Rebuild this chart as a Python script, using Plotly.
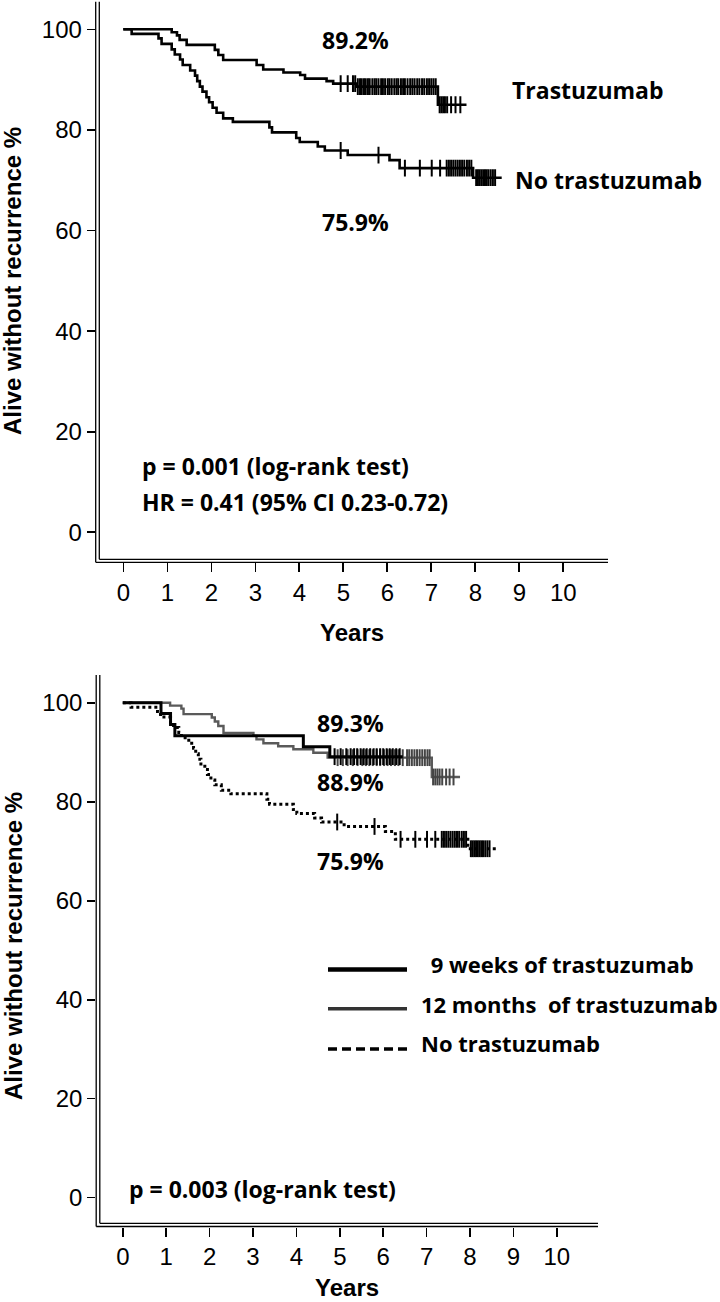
import plotly.graph_objects as go

# ---------------- DATA ----------------
# Top panel: Trastuzumab vs No trastuzumab (Kaplan-Meier steps, % alive without recurrence)
tras_times = [0, 1.10, 1.22, 1.28, 1.44, 2.08, 2.16, 2.27, 3.03, 3.18, 3.64, 4.02, 4.13, 4.62, 4.77, 5.30, 7.15]
tras_surv = [100, 99.4, 98.8, 97.9, 96.9, 95.9, 94.9, 93.9, 92.9, 92.0, 91.4, 90.9, 90.2, 89.7, 89.2, 88.6, 85.0]
tras_end = 7.80
tras_censor = [4.94, 5.10, 5.22, 5.27, 5.33, 5.38, 5.42, 5.47, 5.51, 5.56, 5.60, 5.66, 5.71, 5.75,
               5.80, 5.86, 5.90, 5.95, 6.01, 6.05, 6.10, 6.16, 6.21, 6.25, 6.31, 6.36, 6.40, 6.46,
               6.52, 6.57, 6.62, 6.68, 6.73, 6.79, 6.84, 6.90, 6.95, 7.00, 7.05, 7.10,
               7.19, 7.23, 7.27, 7.31, 7.36, 7.45, 7.55, 7.66]

none_times = [0, 0.19, 0.80, 0.87, 1.10, 1.17, 1.29, 1.35, 1.52, 1.63, 1.68, 1.74, 1.80, 1.89, 1.95,
              2.03, 2.12, 2.27, 2.49, 3.32, 3.38, 3.93, 4.01, 4.42, 4.58, 5.10, 6.05, 6.28, 7.95]
none_surv = [100, 99.1, 98.2, 97.1, 96.0, 95.0, 94.0, 92.9, 91.8, 90.8, 89.7, 88.6, 87.6, 86.5, 85.5,
             84.4, 83.4, 82.3, 81.6, 80.5, 79.5, 78.4, 77.6, 76.7, 75.9, 75.0, 74.0, 72.4, 70.5]
none_end = 8.60
none_censor = [4.94, 5.80, 6.40, 6.74, 7.01, 7.20, 7.35, 7.40, 7.45, 7.50, 7.55, 7.60, 7.65, 7.70,
               7.75, 7.81, 7.86, 7.91, 8.02, 8.06, 8.10, 8.14, 8.18, 8.22, 8.26, 8.30, 8.35, 8.40, 8.45]

# Bottom panel: 9 weeks vs 12 months vs No trastuzumab
w9_times = [0, 0.88, 1.10, 1.20, 4.16, 4.77]
w9_surv = [100, 97.8, 95.6, 93.3, 91.1, 89.1]
w9_end = 6.45
w9_censor = [4.88, 5.02, 5.15, 5.25, 5.33, 5.40, 5.48, 5.55, 5.62, 5.70, 5.78, 5.85, 5.93, 6.00,
             6.08, 6.15, 6.22, 6.30, 6.38]

m12_times = [0, 1.09, 1.35, 1.40, 2.05, 2.12, 2.20, 2.32, 3.01, 3.08, 3.24, 3.58, 3.93, 4.39, 4.72, 7.12]
m12_surv = [100, 99.4, 98.8, 97.7, 97.0, 96.2, 95.3, 93.9, 93.3, 92.6, 91.8, 91.2, 90.6, 89.9, 88.9, 85.0]
m12_end = 7.77
m12_censor = [4.95, 5.07, 5.18, 5.30, 5.41, 5.52, 5.60, 5.68, 5.76, 5.85, 5.93, 6.02, 6.10, 6.18,
              6.27, 6.35, 6.45, 6.55, 6.60, 6.66, 6.72, 6.78, 6.84, 6.90, 6.96, 7.02, 7.07,
              7.15, 7.20, 7.25, 7.30, 7.36, 7.45, 7.53, 7.62]

x_ticks = [0, 1, 2, 3, 4, 5, 6, 7, 8, 9, 10]
y_ticks = [0, 20, 40, 60, 80, 100]

# ---------------- LAYOUT GEOMETRY (pixels) ----------------
W, H = 720, 1302
TOP = dict(left=95.7, inner_left=99.3, right=608, top=1.7, bottom=562.3, inner_bottom=559.3,
           x0px=123.3, xscale=44.0, y100=29.3, yscale=5.03)
BOT = dict(left=96.2, inner_left=99.8, right=598, top=675, bottom=1226.5, inner_bottom=1223.3,
           x0px=122.8, xscale=43.4, y100=702.7, yscale=4.95)


def px(x):
    return x / W


def py(y):
    return 1 - y / H


def step_val(t, times, surv):
    v = surv[0]
    for tt, ss in zip(times, surv):
        if tt <= t:
            v = ss
    return v


fig = go.Figure()


def add_curve(times, surv, end, censor, xa, ya, color, width, dash, mcolor, mwidth=2.0, msize=12):
    fig.add_trace(go.Scatter(
        x=times + [end], y=surv + [surv[-1]], mode="lines",
        line=dict(shape="hv", color=color, width=width, dash=dash),
        xaxis=xa, yaxis=ya, showlegend=False, hoverinfo="skip"))
    fig.add_trace(go.Scatter(
        x=censor, y=[step_val(c, times, surv) for c in censor], mode="markers",
        marker=dict(symbol="line-ns", size=msize, line=dict(color=mcolor, width=mwidth)),
        xaxis=xa, yaxis=ya, showlegend=False, hoverinfo="skip"))


# top panel
add_curve(tras_times, tras_surv, tras_end, tras_censor, "x", "y", "black", 2.6, "solid", "black")
add_curve(none_times, none_surv, none_end, none_censor, "x", "y", "black", 2.6, "solid", "black")
# bottom panel
add_curve(none_times, none_surv, none_end, none_censor, "x2", "y2", "black", 3.0, "dot", "black")
add_curve(m12_times, m12_surv, m12_end, m12_censor, "x2", "y2", "#5a5a5a", 2.4, "solid", "#444444")
add_curve(w9_times, w9_surv, w9_end, w9_censor, "x2", "y2", "black", 3.0, "solid", "black")


def axes(G):
    xr = [(G["left"] - G["x0px"]) / G["xscale"], (G["right"] - G["x0px"]) / G["xscale"]]
    yr = [100 - (G["bottom"] - G["y100"]) / G["yscale"], 100 + (G["y100"] - G["top"]) / G["yscale"]]
    xd = [px(G["left"]), px(G["right"])]
    yd = [py(G["bottom"]), py(G["top"])]
    xax = dict(domain=xd, range=xr, showgrid=False, zeroline=False, showline=False,
               ticks="outside", ticklen=9, tickwidth=1.6, tickcolor="black",
               tickvals=x_ticks, ticktext=[str(v) for v in x_ticks],
               tickfont=dict(family="Arial", size=24, color="black"), fixedrange=True)
    yax = dict(domain=yd, range=yr, showgrid=False, zeroline=False, showline=False,
               ticks="outside", ticklen=8, tickwidth=1.6, tickcolor="black",
               tickvals=y_ticks, ticktext=[str(v) for v in y_ticks],
               tickfont=dict(family="Arial", size=24, color="black"), fixedrange=True)
    return xax, yax


xa1, ya1 = axes(TOP)
xa2, ya2 = axes(BOT)
ya1["anchor"] = "x"
xa1["anchor"] = "y"
xa2["anchor"] = "y2"
ya2["anchor"] = "x2"

shapes = []
for G in (TOP, BOT):
    for x in (G["left"], G["inner_left"]):
        shapes.append(dict(type="line", xref="paper", yref="paper", x0=px(x), x1=px(x),
                           y0=py(G["top"]), y1=py(G["bottom"] if x == G["left"] else G["inner_bottom"]),
                           line=dict(color="black", width=1.3)))
    for y in (G["bottom"], G["inner_bottom"]):
        shapes.append(dict(type="line", xref="paper", yref="paper",
                           x0=px(G["left"] if y == G["bottom"] else G["inner_left"]),
                           x1=px(G["right"]), y0=py(y), y1=py(y),
                           line=dict(color="black", width=1.3)))

# legend (bottom panel)
leg = [(969.5, dict(color="black", width=4.5, dash="solid")),
       (1008.7, dict(color="#333333", width=3.5, dash="solid")),
       (1049.0, dict(color="black", width=3.5, dash="9px,5px"))]
for yy, ln in leg:
    shapes.append(dict(type="line", xref="paper", yref="paper", x0=px(328), x1=px(407),
                       y0=py(yy), y1=py(yy), line=ln))

TXT = dict(family="Open Sans", size=23, color="black", weight="bold")
ARIALB = dict(family="Arial", size=24, color="black", weight="bold")


def ann(text, x, y, font, xanchor="left", yanchor="middle", angle=0):
    return dict(text=text, x=px(x), y=py(y), xref="paper", yref="paper", showarrow=False,
                xanchor=xanchor, yanchor=yanchor, font=font, textangle=angle)


anns = [
    ann("89.2%", 355, 40, TXT, "center"),
    ann("75.9%", 355, 222, TXT, "center"),
    ann("Trastuzumab", 510, 90, TXT),
    ann("No trastuzumab", 513, 180, TXT),
    ann("p = 0.001 (log-rank test)", 140, 466, TXT),
    ann("HR = 0.41 (95% CI 0.23-0.72)", 140, 502, TXT),
    ann("89.3%", 350, 723, TXT, "center"),
    ann("88.9%", 350, 782, TXT, "center"),
    ann("75.9%", 350, 861, TXT, "center"),
    ann(" 9 weeks of trastuzumab", 423, 964, dict(TXT, size=22)),
    ann("12 months  of trastuzumab", 419, 1004, dict(TXT, size=22)),
    ann("No trastuzumab", 419, 1043, dict(TXT, size=22)),
    ann("p = 0.003 (log-rank test)", 127, 1189, TXT),
    ann("Years", 352, 632, ARIALB, "center"),
    ann("Years", 347, 1287, ARIALB, "center"),
    ann("Alive without recurrence %", 13, 281, ARIALB, "center", "middle", -90),
    ann("Alive without recurrence %", 13, 946, ARIALB, "center", "middle", -90),
]

fig.update_layout(
    width=W, height=H, margin=dict(l=0, r=0, t=0, b=0),
    paper_bgcolor="white", plot_bgcolor="white",
    xaxis=xa1, yaxis=ya1, xaxis2=xa2, yaxis2=ya2,
    shapes=shapes, annotations=anns, showlegend=False,
)
fig.write_html("out.html", config={"displayModeBar": False, "staticPlot": True},
               post_script="document.body.style.margin='0';document.body.style.overflow='hidden';")
